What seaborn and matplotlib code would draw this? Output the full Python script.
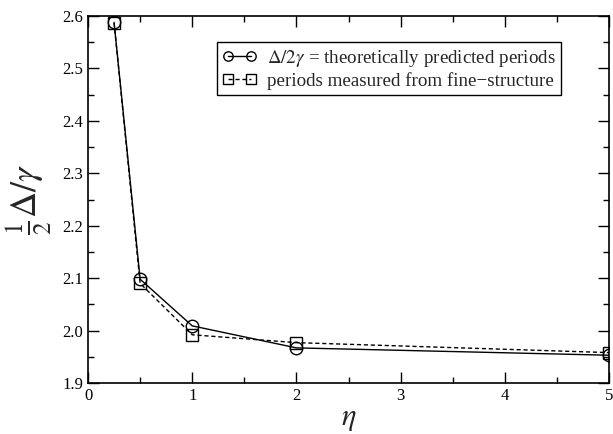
import numpy as np
import pandas as pd
import matplotlib
matplotlib.use("Agg")
import matplotlib.pyplot as plt
import seaborn as sns
from matplotlib.ticker import MultipleLocator

# eta values and the two period curves
eta = [0.25, 0.5, 1.0, 2.0, 5.0]
theory = [2.588, 2.098, 2.009, 1.967, 1.953]
measured = [2.587, 2.090, 1.992, 1.977, 1.958]
label_theory = r"$\Delta/2\gamma$ = theoretically predicted periods"
label_measured = "periods measured from fine\u2212structure"

sns.set_theme(style="ticks")
plt.rcParams["font.family"] = ["Liberation Serif", "DejaVu Serif"]
plt.rcParams["mathtext.fontset"] = "stix"

df = pd.DataFrame({
    "eta": eta * 2,
    "val": theory + measured,
    "series": [label_theory] * len(eta) + [label_measured] * len(eta),
})

fig = plt.figure(figsize=(6.13, 4.34), dpi=100)
ax = fig.add_axes([0.1436, 0.1175, 0.85, 0.8455])

sns.lineplot(data=df, x="eta", y="val", hue="series", style="series",
             palette=["black", "black"], dashes=[(None, None), (3, 2)],
             markers=["o", "s"], markersize=9, markerfacecolor="none",
             markeredgecolor="black", markeredgewidth=1.0, linewidth=1.0,
             ax=ax)

ax.set_xlim(0, 5)
ax.set_ylim(1.9, 2.6)
ax.xaxis.set_major_locator(MultipleLocator(1))
ax.xaxis.set_minor_locator(MultipleLocator(0.5))
ax.yaxis.set_major_locator(MultipleLocator(0.1))
ax.yaxis.set_minor_locator(MultipleLocator(0.05))
ax.tick_params(which="both", direction="in", top=True, right=True,
               labelsize=12, color="black", labelcolor="black")
ax.tick_params(which="major", length=8, width=1)
ax.tick_params(which="minor", length=4, width=1)
ax.yaxis.set_major_formatter(matplotlib.ticker.FormatStrFormatter("%.1f"))
for s in ax.spines.values():
    s.set_color("black")
    s.set_linewidth(1.2)

ax.set_xlabel(r"$\eta$", fontsize=22, labelpad=0)
ax.set_ylabel(r"$\frac{1}{2}\Delta/\gamma$", fontsize=26, labelpad=6)

leg = ax.legend(loc="upper left", bbox_to_anchor=(0.2476, 0.929),
                borderaxespad=0, fontsize=13.7, frameon=True, fancybox=False,
                edgecolor="black", framealpha=1, handlelength=1.8,
                numpoints=2, markerscale=0.75,
                handletextpad=0.5, borderpad=0.3, labelspacing=0.15)
leg.get_frame().set_linewidth(1.0)

fig.savefig("out.png", dpi=100)
